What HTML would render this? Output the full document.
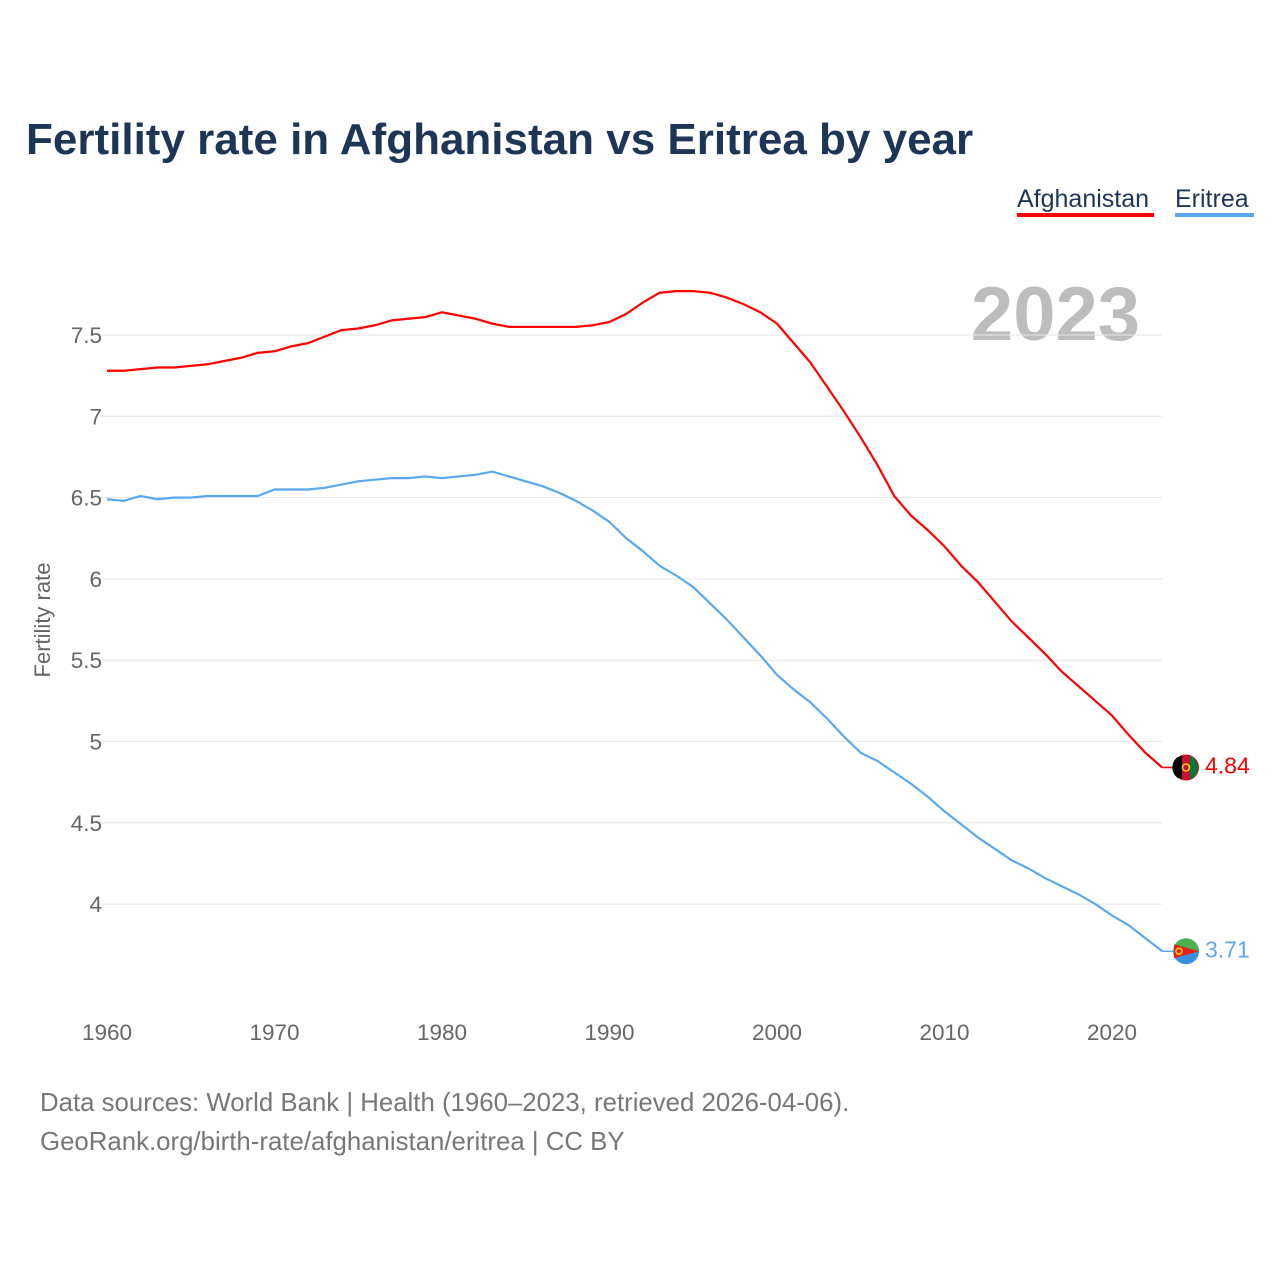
<!DOCTYPE html>
<html><head><meta charset="utf-8">
<style>
body{margin:0;background:#fff;font-family:"Liberation Sans",sans-serif;}
#wrap{position:relative;width:1280px;height:1280px;}
</style></head>
<body>
<div id="wrap">
<svg id="chart" width="1280" height="1280">
<text x="26" y="154" font-size="44" font-weight="bold" fill="#1d3557">Fertility rate in Afghanistan vs Eritrea by year</text>
<g>
<text x="1017" y="207" font-size="25" fill="#1d3557">Afghanistan</text>
<rect x="1017" y="213" width="137" height="4" fill="#ff0000"/></g>
<g>
<text x="1175" y="207" font-size="25" fill="#1d3557">Eritrea</text>
<rect x="1175" y="213" width="79" height="4" fill="#5aa9f0"/></g>
<text x="1140" y="340" font-size="76" font-weight="bold" fill="#bdbdbd" text-anchor="end">2023</text>
<text transform="translate(50,620) rotate(-90)" font-size="22" fill="#666" text-anchor="middle">Fertility rate</text>
<g id="grid"></g><g id="lines"></g>
<text x="40" y="1111" font-size="25.8" fill="#777">Data sources: World Bank | Health (1960–2023, retrieved 2026-04-06).</text>
<text x="40" y="1150" font-size="25.8" fill="#777">GeoRank.org/birth-rate/afghanistan/eritrea | CC BY</text>
</svg></div>
<script>
const years=[];for(let y=1960;y<=2023;y++)years.push(y);
const afghanistan=[7.28,7.28,7.29,7.30,7.30,7.31,7.32,7.34,7.36,7.39,7.40,7.43,7.45,7.49,7.53,7.54,7.56,7.59,7.60,7.61,7.64,7.62,7.60,7.57,7.55,7.55,7.55,7.55,7.55,7.56,7.58,7.63,7.70,7.76,7.77,7.77,7.76,7.73,7.69,7.64,7.57,7.45,7.33,7.18,7.03,6.87,6.70,6.51,6.39,6.30,6.20,6.08,5.98,5.86,5.74,5.64,5.54,5.43,5.34,5.25,5.16,5.04,4.93,4.84];
const eritrea=[6.49,6.48,6.51,6.49,6.50,6.50,6.51,6.51,6.51,6.51,6.55,6.55,6.55,6.56,6.58,6.60,6.61,6.62,6.62,6.63,6.62,6.63,6.64,6.66,6.63,6.60,6.57,6.53,6.48,6.42,6.35,6.25,6.17,6.08,6.02,5.95,5.85,5.75,5.64,5.53,5.41,5.32,5.24,5.14,5.03,4.93,4.88,4.81,4.74,4.66,4.57,4.49,4.41,4.34,4.27,4.22,4.16,4.11,4.06,4.00,3.93,3.87,3.79,3.71];
const yTicks=[4,4.5,5,5.5,6,6.5,7,7.5];
const xTicks=[1960,1970,1980,1990,2000,2010,2020];
const NS="http://www.w3.org/2000/svg";
const X=y=>107+(y-1960)*16.75;
const Y=v=>335+(7.5-v)*162.6;
const grid=document.getElementById('grid'),lines=document.getElementById('lines');
function mk(t,a,p){const e=document.createElementNS(NS,t);for(const k in a)e.setAttribute(k,a[k]);p.appendChild(e);return e;}
yTicks.forEach(v=>{
 const l=mk('line',{x1:100,x2:1162,y1:Y(v),y2:Y(v),stroke:'#e6e6e6','stroke-width':1},grid);
 
 
 const t=mk('text',{x:102,y:Y(v)+8,'font-size':22.5,fill:'#666','text-anchor':'end'},grid);t.textContent=String(v);
 
 
});
xTicks.forEach(v=>{
 const t=mk('text',{x:X(v),y:1040,'font-size':22.5,fill:'#666','text-anchor':'middle'},grid);t.textContent=String(v);
 
 
});
function series(vals,color,name){
 const p=mk('path',{d:vals.map((v,i)=>(i?'L':'M')+X(years[i])+','+Y(v)).join(''),fill:'none',stroke:color,'stroke-width':2.2},lines);
 
 
 const last=vals[vals.length-1],lx=X(2023),ly=Y(last);
 mk('line',{x1:lx,x2:1176,y1:ly,y2:ly,stroke:color,'stroke-width':1.5},lines);
 const c=mk('circle',{cx:1186,cy:ly,r:13,fill:color},lines);
 
 
 const t=mk('text',{x:1205,y:ly+6,'font-size':23,fill:color},lines);t.textContent=last.toFixed(2);
 
 
 return ly;
}
const ay=series(afghanistan,'#ff0000','afghanistan');
const ey=series(eritrea,'#5aa9f0','eritrea');
mk('path',{d:`M1177,${ay-10} A13,13 0 0 0 1177,${ay+10} L1182,${ay+12} L1182,${ay-12}Z`,fill:'#000'},lines);
mk('rect',{x:1182,y:ay-12.5,width:8,height:25,fill:'#c8102e'},lines);
mk('path',{d:`M1190,${ay-12} A13,13 0 0 1 1190,${ay+12}Z`,fill:'#007a36'},lines);
mk('circle',{cx:1186,cy:ay,r:3.5,fill:'none',stroke:'#ffd700','stroke-width':1.5},lines);
mk('path',{d:`M1173,${ey} L1199,${ey} A13,13 0 0 0 1176,${ey-8}Z`,fill:'#4caf50'},lines);
mk('path',{d:`M1173,${ey} L1199,${ey} A13,13 0 0 1 1176,${ey+8}Z`,fill:'#3a8fe0'},lines);
mk('path',{d:`M1174,${ey-7} L1199,${ey} L1174,${ey+7}Z`,fill:'#e2231a'},lines);
mk('circle',{cx:1179,cy:ey,r:3,fill:'none',stroke:'#ffd700','stroke-width':1.5},lines);
</script>
</body></html>
